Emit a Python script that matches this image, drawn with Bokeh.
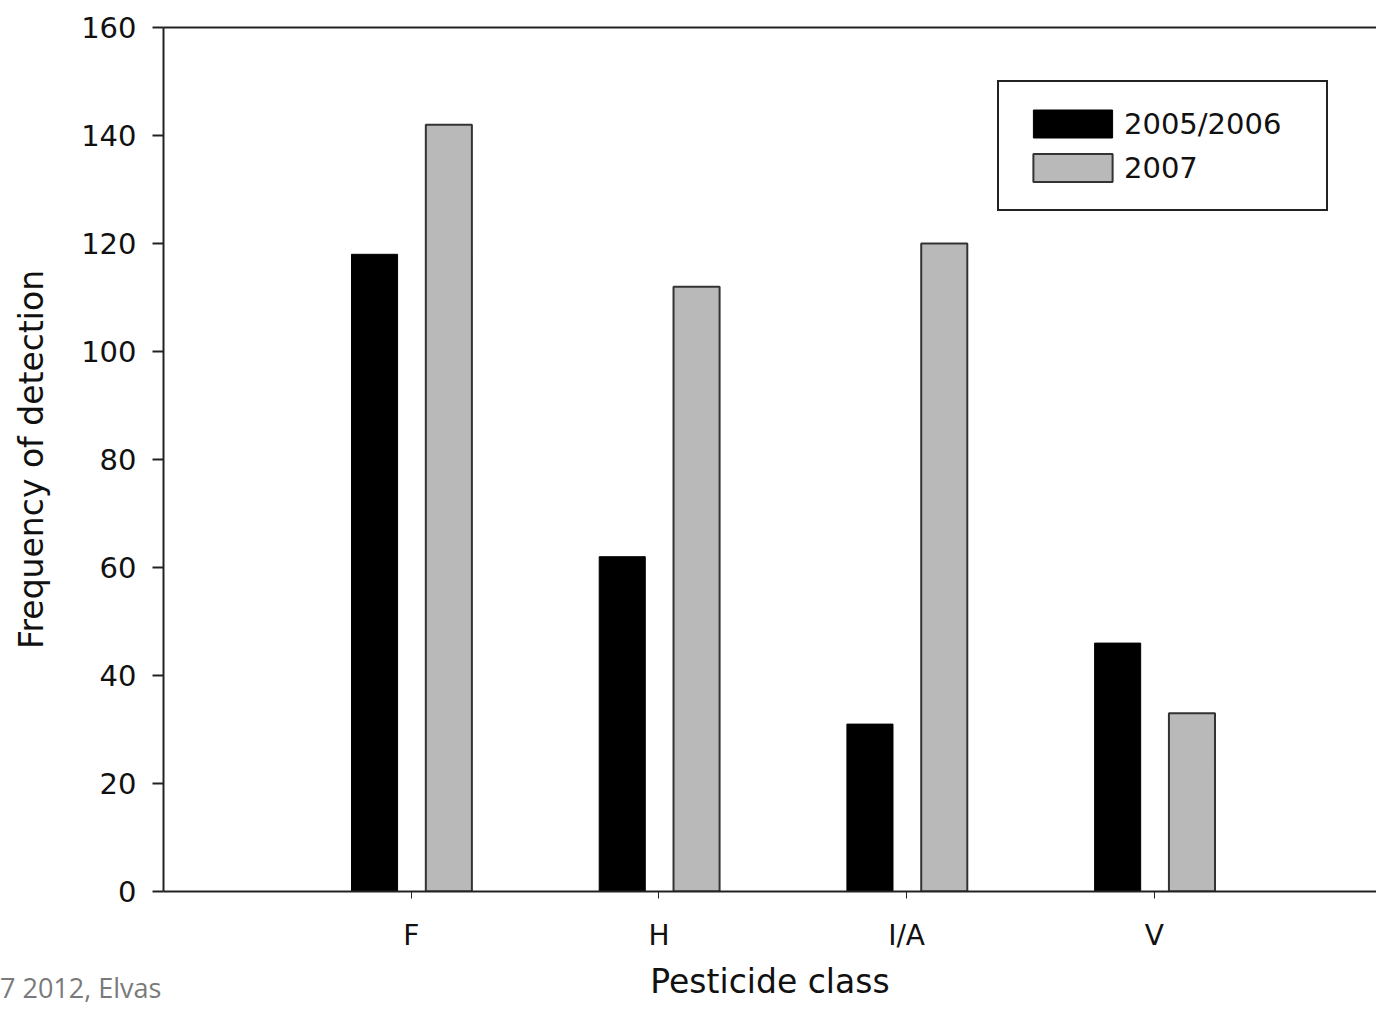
from bokeh.plotting import figure
from bokeh.models import (ColumnDataSource, Range1d, FixedTicker, LinearAxis,
                          Legend, LegendItem, Div)
from bokeh.layouts import column
from bokeh.transform import dodge
from bokeh.embed import file_html
from bokeh.resources import INLINE

categories = ["F", "H", "I/A", "V"]
positions = [1, 2, 3, 4]
values_2005_2006 = [118, 62, 31, 46]
values_2007 = [142, 112, 120, 33]
series_names = ["2005/2006", "2007"]
y_ticks = [0, 20, 40, 60, 80, 100, 120, 140, 160]

FONT = "DejaVu Sans"

src = ColumnDataSource(dict(x=positions, a=values_2005_2006, b=values_2007))

p = figure(width=1376, height=1003, output_backend="svg", toolbar_location=None,
           x_range=Range1d(0, 4.897), y_range=Range1d(0, 160),
           min_border_left=163, min_border_right=0, min_border_top=27,
           min_border_bottom=112)
p.outline_line_color = None
p.grid.visible = False
p.background_fill_color = "white"
p.border_fill_color = "white"

r1 = p.vbar(x=dodge("x", -0.148, range=p.x_range), top="a", width=0.186, source=src,
            fill_color="black", line_color="black", line_width=1)
r2 = p.vbar(x=dodge("x", 0.152, range=p.x_range), top="b", width=0.186, source=src,
            fill_color="#b9b9b9", line_color="#333333", line_width=2)

# axes
xa = p.xaxis[0]
xa.ticker = FixedTicker(ticks=positions)
xa.major_label_overrides = {pos: c for pos, c in zip(positions, categories)}
xa.axis_label = "Pesticide class"
ya = p.yaxis[0]
ya.ticker = FixedTicker(ticks=y_ticks)
ya.axis_label = "Frequency of detection"

for ax in (xa, ya):
    ax.axis_line_width = 2
    ax.axis_line_color = "#222222"
    ax.major_tick_line_color = "#222222"
    ax.minor_tick_line_color = None
    ax.major_tick_in = 0
    ax.major_label_text_font = FONT
    ax.major_label_text_color = "#111111"
    ax.axis_label_text_font = FONT
    ax.axis_label_text_font_style = "normal"
    ax.axis_label_text_color = "#111111"

ya.major_tick_out = 11
ya.major_tick_line_width = 2
ya.major_label_text_font_size = "29px"
ya.major_label_standoff = 16
ya.axis_label_text_font_size = "33px"
ya.axis_label_standoff = 27

xa.major_tick_out = 7
xa.major_tick_line_width = 1
xa.major_label_text_font_size = "28px"
xa.major_label_standoff = 20
xa.axis_label_text_font_size = "33px"
xa.axis_label_standoff = 7

top_axis = LinearAxis(ticker=FixedTicker(ticks=[]), axis_line_width=2,
                      axis_line_color="#222222", major_tick_line_color=None,
                      minor_tick_line_color=None)
p.add_layout(top_axis, "above")

legend = Legend(items=[LegendItem(label=series_names[0], renderers=[r1]),
                       LegendItem(label=series_names[1], renderers=[r2])],
                location=(834, 680))
legend.border_line_color = "#222222"
legend.border_line_alpha = 1
legend.border_line_width = 2
legend.background_fill_color = "white"
legend.background_fill_alpha = 1
legend.glyph_width = 99
legend.glyph_height = 35
legend.label_height = 30
legend.label_width = 178
legend.label_standoff = 2
legend.spacing = 9
legend.padding = 24
legend.margin = 0
legend.label_text_font = FONT
legend.label_text_font_size = "29px"
legend.label_text_color = "#111111"
p.add_layout(legend, "center")

watermark = Div(text="7 2012, Elvas", width=200, height=30,
                margin=(-30, 0, 0, 0),
                styles={"font-family": "Open Sans", "font-size": "27px",
                        "line-height": "30px", "color": "#7a7a7a",
                        "z-index": "10"})

layout = column(p, watermark, spacing=0)

open("out.html", "w").write(file_html(layout, INLINE))
